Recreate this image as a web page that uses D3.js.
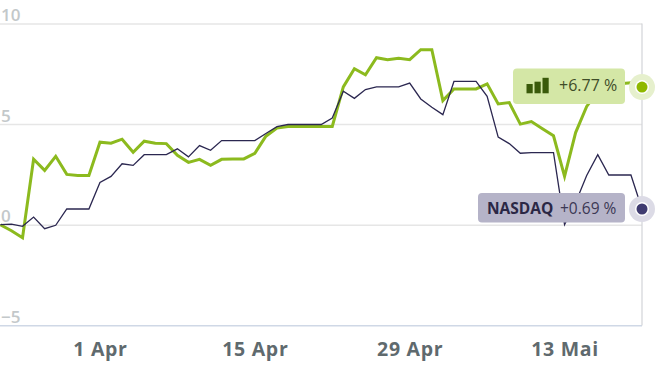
<!DOCTYPE html>
<html>
<head>
<meta charset="utf-8">
<script src="https://cdn.jsdelivr.net/npm/d3@7/dist/d3.min.js"></script>
<style>
html,body{margin:0;padding:0;background:#fff;}
svg{display:block;}
text{font-family:"Open Sans",sans-serif;}
</style>
</head>
<body>
<svg id="chart" width="656" height="370"></svg>
<script>
const startDate = "2013-03-23";
const fundValues = [0,-0.3,-0.65,3.25,2.7,3.4,2.5,2.45,2.45,4.1,4.05,4.25,3.6,4.15,4.05,4.03,3.45,3.1,3.25,2.95,3.25,3.27,3.27,3.55,4.4,4.8,4.88,4.88,4.88,4.88,4.88,6.85,7.75,7.45,8.3,8.2,8.27,8.2,8.7,8.7,6.17,6.75,6.75,6.75,7.0,6.0,6.07,5.0,5.13,4.77,4.42,2.4,4.58,5.88,6.6,7.0,7.0,7.05,6.84];
const nasdaqValues = [0,0.03,-0.08,0.38,-0.2,-0.03,0.78,0.78,0.78,2.1,2.4,3.03,2.95,3.48,3.48,3.48,3.77,3.37,3.93,3.7,4.18,4.18,4.18,4.18,4.53,4.87,4.98,4.98,4.98,4.98,5.3,6.63,6.28,6.72,6.85,6.85,6.85,7.04,6.25,5.84,5.47,7.12,7.12,7.12,6.38,4.35,4.03,3.55,3.58,3.58,3.58,0,1.1,2.45,3.48,2.47,2.47,2.47,0.78];
const yTicks = [10,5,0,-5];
const xTickDates = ["2013-04-01","2013-04-15","2013-04-29","2013-05-13"];
const xTickLabels = ["1 Apr","15 Apr","29 Apr","13 Mai"];
const fundLabel = "+6.77 %";
const nasdaqName = "NASDAQ";
const nasdaqLabel = "+0.69 %";
const iconBars = [0.6,0.75,1];

const parse = d3.utcParse("%Y-%m-%d");
const dates = fundValues.map((_, i) => d3.utcDay.offset(parse(startDate), i));
const svg = d3.select("#chart");

const x = d3.scaleUtc().domain([dates[0], dates[dates.length-1]]).range([0.4, 642]);
const y = d3.scaleLinear().domain([-5, 10]).range([325.3, 23.5]);

// y grid
const yAxis = d3.axisRight(y).tickValues(yTicks).tickSize(642)
  .tickFormat(d => d < 0 ? "\u2212" + Math.abs(d) : d);
const gy = svg.append("g").call(yAxis);
gy.select(".domain").remove();
gy.selectAll(".tick line")
  .attr("stroke", d => d === -5 ? "#cfd8e6" : "#e6e6e6")
  .attr("stroke-width", d => d === -5 ? 1.6 : 1.5);
gy.selectAll(".tick text")
  .attr("x", 1).attr("dy", 0).attr("y", -3)
  .attr("text-anchor", "start")
  .attr("fill", "#c3c8ca")
  .attr("font-size", 17).attr("font-weight", 600);

// right border
svg.append("line").attr("x1", 642).attr("x2", 642).attr("y1", 23.5).attr("y2", 325.5)
  .attr("stroke", "#d2d4d8").attr("stroke-width", 1.2);

// x axis
const xAxis = d3.axisBottom(x).tickValues(xTickDates.map(parse)).tickSize(0)
  .tickFormat((d, i) => xTickLabels[i]);
const gx = svg.append("g").attr("transform", "translate(0,325)").call(xAxis);
gx.select(".domain").remove();
gx.selectAll(".tick text")
  .attr("y", 31).attr("dy", 0)
  .attr("fill", "#5f6a6e")
  .attr("font-size", 19.5).attr("font-weight", 700)
  .attr("letter-spacing", 0.7);

const line = d3.line().x((d, i) => x(dates[i])).y(d => y(d));

svg.append("path").datum(fundValues).attr("d", line).attr("fill", "none")
  .attr("stroke", "#8cba1e").attr("stroke-width", 3).attr("stroke-linejoin", "miter");
svg.append("path").datum(nasdaqValues).attr("d", line).attr("fill", "none")
  .attr("stroke", "#2b2750").attr("stroke-width", 1.3);

// end markers
const lastX = x(dates[dates.length-1]);
const markers = [
  {v: fundValues[fundValues.length-1], halo:"#e6f0cd", dot:"#8fb800", r:5.5},
  {v: nasdaqValues[nasdaqValues.length-1], halo:"#dcdbe6", dot:"#3f3b70", r:5.5}
];
markers.forEach(m => {
  svg.append("circle").attr("cx", lastX).attr("cy", y(m.v)).attr("r", 13).attr("fill", m.halo);
  svg.append("circle").attr("cx", lastX).attr("cy", y(m.v)).attr("r", 7).attr("fill", "#fff");
  svg.append("circle").attr("cx", lastX).attr("cy", y(m.v)).attr("r", m.r).attr("fill", m.dot);
});

// fund label
svg.append("rect").attr("x", 513).attr("y", 68.5).attr("width", 112).attr("height", 35.5).attr("rx", 4)
  .attr("fill", "#d4e7a6");
const iconScale = d3.scaleLinear().domain([0,1]).range([0,15.5]);
svg.append("g").selectAll("rect").data(iconBars).join("rect")
  .attr("x", (d,i) => 526.5 + i*8)
  .attr("y", d => 93.3 - iconScale(d))
  .attr("width", 6.2)
  .attr("height", d => iconScale(d))
  .attr("fill", "#3a5a0a");
svg.append("text").attr("x", 559).attr("y", 91).attr("fill", "#3f4d28")
  .attr("font-size", 16).text(fundLabel);

// nasdaq label
svg.append("rect").attr("x", 478).attr("y", 193).attr("width", 147).attr("height", 29.5).attr("rx", 4)
  .attr("fill", "#b5b3c8");
svg.append("text").attr("x", 487).attr("y", 214).attr("fill", "#2b2745")
  .attr("font-size", 15.5).attr("font-weight", 700).text(nasdaqName);
svg.append("text").attr("x", 560).attr("y", 214).attr("fill", "#3c3854")
  .attr("font-size", 15.5).text(nasdaqLabel);
</script>
</body>
</html>
